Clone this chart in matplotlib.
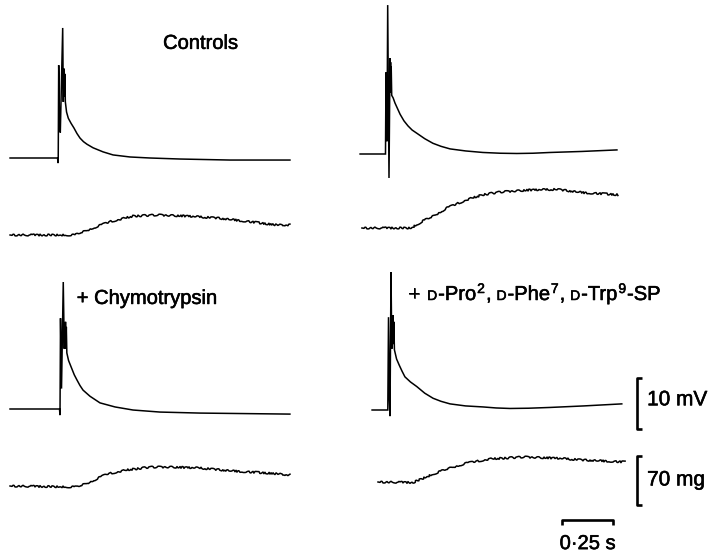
import matplotlib
matplotlib.use("Agg")
import matplotlib.pyplot as plt
import matplotlib.patheffects as pe
from matplotlib.transforms import IdentityTransform

plt.rcParams['font.family'] = ['Liberation Sans', 'DejaVu Sans']

# --- data (time in ms from stimulus, mV / mg from baseline) ---
ctrl1_mv_t = [-235, -2.5, 1, 3.4, 8, 11.3, 23, 26, 27.5, 29, 30.5, 32, 33.5, 36, 42, 50.5,
              64, 78, 93, 108, 125, 142, 172, 221, 270, 353, 451, 598, 843, 1137]
ctrl1_mv = [0, 0, -1.0, 18.2, 6, 5, 25.5, 11, 17.6, 12, 17.3, 12.5, 16.5, 11, 9, 7.8,
            6.8, 5.9, 4.8, 3.9, 3.2, 2.7, 2.0, 1.2, 0.6, 0.2, 0, -0.2, -0.4, -0.4]
ctrl1_mg_t = [-235, 83, 108, 172, 255, 368, 485, 632, 779, 941, 1073, 1137]
ctrl1_mg = [0, 0, 2.9, 10, 19, 27, 28.6, 27, 24.3, 19, 14.3, 14.3]

ctrl2_mv_t = [-127, -2.5, 0, 4.9, 8.3, 14.7, 19.6, 21, 22.5, 24, 25.5, 28, 35, 44, 69, 88, 108,
              128, 150, 190, 230, 270, 314, 390, 475, 560, 642, 720, 804, 960, 1132]
ctrl2_mv = [0, 0, 16, 2.5, 29.2, -4.7, 18.8, 12, 18.0, 12.5, 17.1, 11.5, 11, 10, 7.8, 6.5, 5.5,
            4.7, 4.1, 3.0, 2.1, 1.5, 1.0, 0.6, 0.3, 0.15, 0.1, 0.15, 0.3, 0.5, 0.8]
ctrl2_mg_t = [-118, 123, 176, 230, 299, 397, 475, 559, 706, 838, 966, 1083, 1137]
ctrl2_mg = [0, 0, 9.3, 16.7, 28.6, 40.5, 47.6, 51.4, 54.3, 55.2, 50.5, 48.6, 47.6]

chymo_mv_t = [-245, -2.5, 0, 2.5, 7.4, 16, 21, 23, 25, 27, 29, 31, 33.5, 42, 57, 70, 83, 98,
              113, 147, 196, 270, 358, 490, 686, 1127]
chymo_mv = [0, 0, -1.2, 17.8, 4, 24.9, 11.8, 16.5, 11.8, 17.1, 12.4, 16.1, 11.0, 9.5, 8.0, 6.7,
            5.7, 4.6, 3.7, 2.5, 1.2, 0.4, -0.2, -0.6, -0.8, -1.0]
chymo_mg_t = [-245, 83, 147, 230, 328, 441, 554, 686, 848, 1015, 1127]
chymo_mg = [0, -1.4, 5.7, 17, 22.9, 27, 27, 25.7, 21.4, 18.6, 15.7]

antag_mv_t = [-78, -1, 2.5, 6.9, 9.8, 14.7, 18.6, 20.5, 22.5, 24.5, 26.5, 28.5, 31.5, 42, 55, 69,
              83, 110, 141, 180, 221, 260, 304, 380, 466, 530, 598, 690, 794, 960, 1146]
antag_mv = [0, 0, 18.2, 2.0, -1.2, 27.0, 12, 18.4, 12.9, 18.6, 13.3, 17.3, 11.8, 10, 8.8, 7.6,
            6.5, 5.5, 4.6, 3.3, 2.3, 1.7, 1.2, 0.8, 0.6, 0.4, 0.3, 0.35, 0.5, 0.8, 1.2]
antag_mg_t = [-49, 123, 221, 304, 387, 500, 662, 828, 956, 1162]
antag_mg = [0, -0.7, 11.4, 20, 27, 32.9, 35.7, 34, 31.4, 28.6]

labels = ['Controls', '+ Chymotrypsin']
scale_mv = 10
scale_mg = 70
scale_s = 0.25

# --- layout ---
W, H = 709, 554
PX_PER_S = 204
PX_PER_MV = 5.1
PX_PER_MG = 0.7

fig = plt.figure(figsize=(W / 100, H / 100), dpi=100)
fig.patch.set_facecolor('white')

# printed text looks a bit heavier than the plain font
heavy = [pe.withStroke(linewidth=0.4, foreground='black')]


def trace_axes(stim_px, base_px, px_per_unit):
    ax = fig.add_axes([0, 0, 1, 1], facecolor='none')
    ax.set_xlim(-stim_px / PX_PER_S, (W - stim_px) / PX_PER_S)
    ax.set_ylim((base_px - H) / px_per_unit, base_px / px_per_unit)
    ax.axis('off')
    return ax


def draw_panel(stim_px, mv_base, mg_base, mv_t, mv, mg_t, mg):
    ax_v = trace_axes(stim_px, mv_base, PX_PER_MV)
    ax_v.plot([t / 1000 for t in mv_t], mv, color='black', lw=1.1,
              solid_joinstyle='miter')
    ax_f = trace_axes(stim_px, mg_base, PX_PER_MG)
    line, = ax_f.plot([t / 1000 for t in mg_t], mg, color='black', lw=1.1)
    line.set_sketch_params(scale=0.9, length=5, randomness=8)
    return ax_v, ax_f


ax1v, ax1f = draw_panel(58, 158, 235, ctrl1_mv_t, ctrl1_mv, ctrl1_mg_t, ctrl1_mg)
ax2v, ax2f = draw_panel(386, 154, 228, ctrl2_mv_t, ctrl2_mv, ctrl2_mg_t, ctrl2_mg)
ax3v, ax3f = draw_panel(60, 409, 486, chymo_mv_t, chymo_mv, chymo_mg_t, chymo_mg)
ax4v, ax4f = draw_panel(388, 410, 482, antag_mv_t, antag_mv, antag_mg_t, antag_mg)

ax1v.text(0.515, 21.4, labels[0], fontsize=14.5, va='baseline', ha='left', path_effects=heavy)
ax3v.text(0.082, 20.6, labels[1], fontsize=14.5, va='baseline', ha='left', path_effects=heavy)

# scale bars (in the lower right panel's units)
bar_kw = dict(color='black', lw=1.9, solid_capstyle='butt')
tick_dt = 5 / PX_PER_S
xb = 1.221
ax4v.plot([xb + tick_dt, xb, xb, xb + tick_dt], [-3.7, -3.7, -3.7 + scale_mv, -3.7 + scale_mv],
          **bar_kw)
ax4v.text(1.270, 2.0, f'{scale_mv} mV', fontsize=15, va='center', ha='left', path_effects=heavy)
ax4f.plot([xb + tick_dt, xb, xb, xb + tick_dt], [-32.9, -32.9, -32.9 + scale_mg, -32.9 + scale_mg],
          **bar_kw)
ax4f.text(1.270, 2.9, f'{scale_mg} mg', fontsize=15, va='center', ha='left', path_effects=heavy)
t0 = 0.853
tick_dm = 5 / PX_PER_MG
ax4f.plot([t0, t0, t0 + scale_s, t0 + scale_s], [-54.3 - tick_dm, -54.3, -54.3, -54.3 - tick_dm],
          **bar_kw)
ax4f.text(t0 + scale_s / 2, -88, '0·25 s', fontsize=14.5, va='center', ha='center',
          path_effects=heavy)

# antagonist label with small-cap D and superscripts, laid out piece by piece
fig.canvas.draw()
renderer = fig.canvas.get_renderer()
x0, y0 = ax4v.transData.transform((0.1, 21.57))
pieces = [('+', 14.5, 0, 6), ('D', 10, 0, 0), ('-Pro', 14.5, 0, 0), ('2', 10, 7, 0),
          (',', 14.5, 0, 4), ('D', 10, 0, 0), ('-Phe', 14.5, 0, 0), ('7', 10, 7, 0),
          (',', 14.5, 0, 4), ('D', 10, 0, 0), ('-Trp', 14.5, 0, 0), ('9', 10, 7, 0),
          ('-SP', 14.5, 0, 0)]
x = x0
for s, size, rise, gap in pieces:
    t = fig.text(x, y0 + rise, s, fontsize=size, va='baseline', ha='left',
                 transform=IdentityTransform(), path_effects=heavy)
    x += t.get_window_extent(renderer).width + 1 + gap

fig.savefig('out.png', dpi=100, facecolor='white')
